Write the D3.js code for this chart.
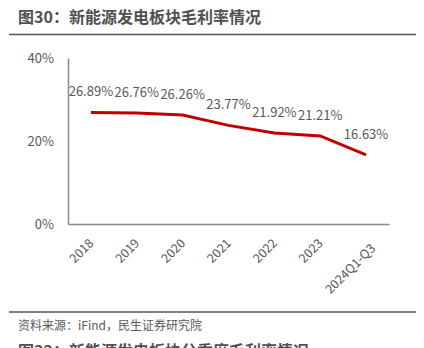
<!DOCTYPE html>
<html><head><meta charset="utf-8">
<script src="https://cdn.jsdelivr.net/npm/d3@7"></script>
<style>body{margin:0;background:#fff}svg{display:block}text{font-family:"Noto Sans CJK SC","Noto Sans",sans-serif}</style>
</head><body><svg id="c" width="424" height="348"></svg>
<script>
const title = "图30：新能源发电板块毛利率情况";
const source = "资料来源：iFind，民生证券研究院";
const nextTitle = "图32：新能源发电板块分季度毛利率情况";
const categories = ["2018","2019","2020","2021","2022","2023","2024Q1-Q3"];
const margins = [26.89,26.76,26.26,23.77,21.92,21.21,16.63];
const yTicks = [0,20,40];

const svg = d3.select("#c");
const gray = "#595959";
svg.append("text").attr("x",18).attr("y",23).attr("font-size",16).attr("font-weight","bold").attr("fill","#505050").text(title);
svg.append("line").attr("x1",9).attr("x2",416).attr("y1",34.5).attr("y2",34.5).attr("stroke","#555").attr("stroke-width",1.5);
svg.append("line").attr("x1",9).attr("x2",416).attr("y1",312).attr("y2",312).attr("stroke","#555").attr("stroke-width",1.5);
svg.append("text").attr("x",18).attr("y",330).attr("font-size",12).attr("fill",gray).text(source);
svg.append("text").attr("x",18).attr("y",357).attr("font-size",16).attr("font-weight","bold").attr("fill","#505050").text(nextTitle);

const x = d3.scaleBand().domain(categories).range([68,389]);
const y = d3.scaleLinear().domain([0,40]).range([224,58]);

const yAx = svg.append("g").attr("transform","translate(68,0)")
  .call(d3.axisLeft(y).tickValues(yTicks).tickFormat(d=>d+"%").tickSize(0).tickPadding(14));
yAx.select(".domain").attr("stroke","#888").attr("stroke-width",1.5);
yAx.selectAll("text").attr("font-size",13).attr("fill",gray).attr("font-family","'Noto Sans CJK SC',sans-serif");

const xAx = svg.append("g").attr("transform","translate(0,224)")
  .call(d3.axisBottom(x).tickSize(0).tickSizeOuter(0));
xAx.select(".domain").attr("stroke","#888").attr("stroke-width",1.5);
xAx.selectAll("text").attr("font-size",12.5).attr("fill",gray).attr("font-family","'Noto Sans CJK SC',sans-serif")
  .attr("text-anchor","end").attr("dy",null).attr("y",0)
  .attr("transform",(d,i)=>{
    const last = i===categories.length-1;
    return `translate(${last?10:3.5},${last?25:20}) rotate(-45)`;
  });

const cx = d => x(d) + x.bandwidth()/2;
const line = d3.line().x((d,i)=>cx(categories[i])).y(d=>y(d));
svg.append("path").datum(margins).attr("d",line).attr("fill","none").attr("stroke","#C00000").attr("stroke-width",3);

svg.selectAll(".lbl").data(margins).enter().append("text")
  .attr("x",(d,i)=>cx(categories[i])).attr("y",d=>y(d)-16)
  .attr("text-anchor","middle").attr("font-size",13).attr("fill",gray)
  .text(d=>d.toFixed(2)+"%");
</script></body></html>
